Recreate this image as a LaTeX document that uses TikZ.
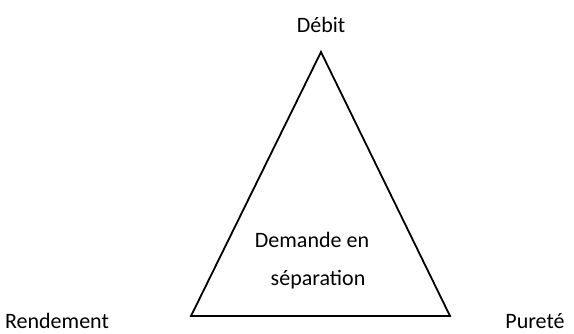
\documentclass[tikz,border=0pt]{standalone}
\usepackage{fontspec}
\setmainfont{Carlito}
\usetikzlibrary{positioning}

\begin{document}
\begin{tikzpicture}[x=1pt, y=-1pt,
            label/.style={anchor=base, inner sep=0pt, font=\fontsize{22}{26}\selectfont}, % every text of the figure
            side/.style={line width=1.8pt, line join=miter}, % the edges of the triangle
        ]
        \useasboundingbox (0,0) rectangle (574,333);

        \coordinate (top)   at (321,52);
        \coordinate (left)  at (191,316);
        \coordinate (right) at (450,316);

        \node (debit)     [label] at (321,32)  {Débit};
        \node (rendement) [label] at (57,328)  {Rendement};
        \node (purete)    [label] at (535,328) {Pureté};
        \node (demande)   [label] at (312,247) {Demande en};
        \node (separation)[label] at (318,285) {séparation};

        \draw[side] (top) -- (right) -- (left) -- cycle;
    \end{tikzpicture}
\end{document}
